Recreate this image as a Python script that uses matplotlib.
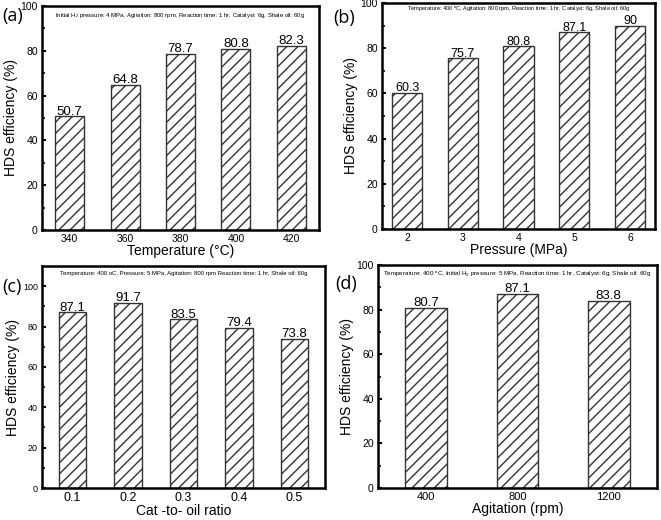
import matplotlib
matplotlib.use('Agg')
import matplotlib.pyplot as plt
import numpy as np

plt.rcParams['font.family'] = ['Liberation Sans', 'DejaVu Sans']
plt.rcParams['hatch.linewidth'] = 1.0
plt.rcParams['mathtext.default'] = 'regular'

# data
temp_labels = ['340', '360', '380', '400', '420']
temp_vals = [50.7, 64.8, 78.7, 80.8, 82.3]

press_labels = ['2', '3', '4', '5', '6']
press_vals = [60.3, 75.7, 80.8, 87.1, 90]

ratio_labels = ['0.1', '0.2', '0.3', '0.4', '0.5']
ratio_vals = [87.1, 91.7, 83.5, 79.4, 73.8]

agit_labels = ['400', '800', '1200']
agit_vals = [80.7, 87.1, 83.8]

W, H = 661, 520
fig = plt.figure(figsize=(W / 100, H / 100), dpi=100)


def px_axes(left, top, right, bottom):
    return fig.add_axes([left / W, 1 - bottom / H, (right - left) / W, (bottom - top) / H])


def panel(ax, labels, vals, width, margin, ymax, xlabel, note, vfs=9.5, tfs=7.5, yfs=7.5,
          nfs=4.3, ny=0.978, off=0.8):
    x = np.arange(len(vals))
    ax.bar(x, vals, width=width, color='white', edgecolor='#333333',
           linewidth=1.0, hatch='///')
    for xi, v in zip(x, vals):
        ax.text(xi, v + off, ('%g' % v), ha='center', va='baseline', fontsize=vfs)
    ax.set_xlim(-margin, len(vals) - 1 + margin)
    ax.set_ylim(0, ymax)
    ax.set_xticks(x)
    ax.set_xticklabels(labels, fontsize=tfs)
    ax.set_yticks(np.arange(0, 101, 20))
    ax.set_yticks(np.arange(10, 101, 20), minor=True)
    ax.tick_params(axis='y', which='major', direction='in', length=3, width=1.5, labelsize=yfs, pad=3)
    ax.tick_params(axis='y', which='minor', direction='in', length=2, width=1.2)
    ax.tick_params(axis='x', length=0, pad=3)
    for s in ax.spines.values():
        s.set_linewidth(1.8)
    ax.set_xlabel(xlabel, fontsize=10, labelpad=0)
    ax.set_ylabel('HDS efficiency (%)', fontsize=10, labelpad=2)
    ax.text(0.5, ny, note, transform=ax.transAxes, ha='center', va='top', fontsize=nfs)


ax_a = px_axes(42, 6, 319, 230)
panel(ax_a, temp_labels, temp_vals, 0.52, 0.5, 100, 'Temperature (°C)',
      'Initial H$_2$ pressure: 4 MPa, Agitation: 800 rpm, Reaction time: 1 hr, Catalyst: 6g, Shale oil: 60g')

ax_b = px_axes(382, 3, 655, 229)
panel(ax_b, press_labels, press_vals, 0.54, 0.45, 100, 'Pressure (MPa)',
      'Temperature: 400 $^o$C, Agitation: 800 rpm, Reaction time: 1 hr, Catalyst: 6g, Shale oil: 60g',
      vfs=9, nfs=4.1, ny=0.99, off=0.6)

ax_c = px_axes(42, 266, 325, 488)
panel(ax_c, ratio_labels, ratio_vals, 0.5, 0.55, 110, 'Cat -to- oil ratio',
      'Temperature: 400 oC, Pressure: 5 MPa, Agitation: 800 rpm Reaction time: 1 hr, Shale oil: 60g',
      tfs=9, yfs=6.5)

ax_d = px_axes(378, 265, 657, 488)
panel(ax_d, agit_labels, agit_vals, 0.46, 0.53, 100, 'Agitation (rpm)',
      'Temperature: 400 $^o$C, Initial H$_2$ pressure: 5 MPa, Reaction time: 1 hr, Catalyst: 6g, Shale oil: 60g',
      tfs=8, nfs=4.5)

# panel letters
for lab, xp, yp in [('(a)', 2, 16), ('(b)', 333, 18), ('(c)', 2, 287), ('(d)', 335, 284)]:
    fig.text(xp / W, 1 - yp / H, lab, fontsize=13, family=['Open Sans', 'DejaVu Sans'],
             ha='left', va='center')

fig.savefig('out.png', dpi=100)
